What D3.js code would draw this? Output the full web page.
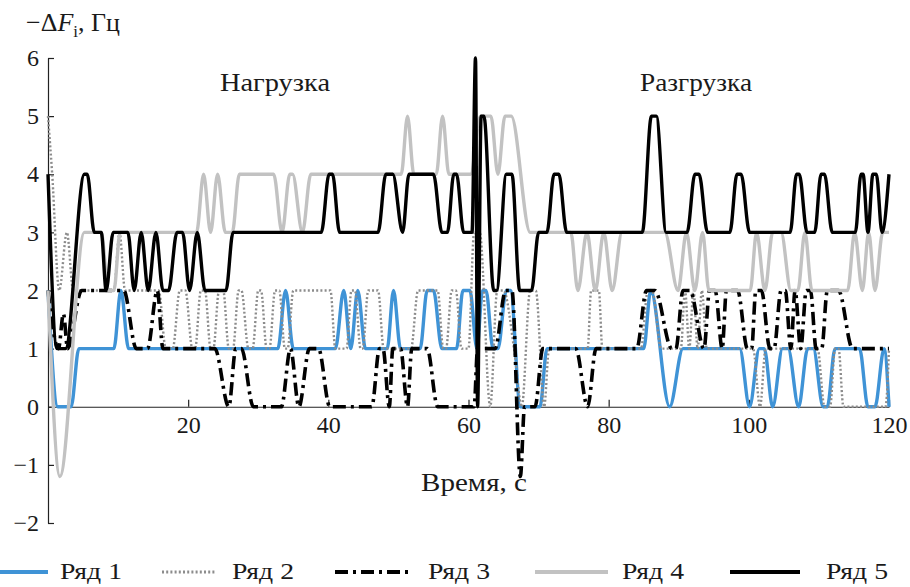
<!DOCTYPE html>
<html><head><meta charset="utf-8">
<script src="https://cdn.jsdelivr.net/npm/d3@7"></script>
<style>body{margin:0;background:#fff} svg{display:block}</style>
</head><body>
<svg id="c" width="910" height="587"></svg>
<script>
// ---- data ----
const xTicks = [20, 40, 60, 80, 100, 120];
const yTicks = [-2, -1, 0, 1, 2, 3, 4, 5, 6];
const seriesNames = ["Ряд 1", "Ряд 2", "Ряд 3", "Ряд 4", "Ряд 5"];
const regionLabels = ["Нагрузка", "Разгрузка"];
const xLabel = "Время, с";

const series1 = [[0,2],[1.4,0],[3.3,0],[4.4,1],[9.4,1],[10.4,2],[11.5,1],[32.8,1],[33.9,2],[35.0,1],[41.0,1],[42.2,2],[43.2,1],[44.2,2],[45.3,1],[48.4,1],[49.3,2],[50.3,1],[53.1,1],[54.1,2],[55.0,2],[56.2,1],[58.3,1],[59.2,2],[60.2,2],[61.2,1],[62.0,2],[62.5,2],[63.5,1],[64.2,1],[65.4,2],[66.0,2],[67.4,0],[70.2,0],[71.2,1],[85.0,1],[86.0,2],[88.7,0],[90.6,1],[98.7,1],[100.1,0],[101.5,1],[102.2,1],[103.4,0],[104.8,1],[105.6,1],[107.1,0],[108.4,1],[109.2,1],[110.6,0],[111.2,0],[112.3,1],[115.8,1],[117.0,0],[118.0,0],[119.3,1],[120,0]];

const series2 = [[0,5],[0.6,4],[1.6,2],[2.7,3],[3.6,2],[9.4,2],[10.2,3],[11.0,2],[15.8,2],[16.8,1],[17.8,1],[18.8,2],[19.6,2],[20.6,1],[21.0,1],[21.8,2],[22.4,2],[23.2,1],[23.6,1],[24.4,2],[25.0,2],[25.8,1],[26.4,1],[27.2,2],[27.6,2],[28.6,1],[29.2,1],[30.0,2],[30.4,2],[31.2,1],[31.6,1],[32.4,2],[33.0,2],[33.8,1],[34.2,1],[35.0,2],[40.3,2],[41.0,1],[42.6,1],[43.3,2],[43.8,2],[44.6,1],[44.9,1],[45.7,2],[47.1,2],[47.9,1],[51.8,1],[52.8,2],[55.6,2],[56.4,1],[56.8,1],[57.6,2],[58.2,2],[59.0,1],[60.0,1],[60.8,3],[61.6,3],[63.1,0],[64.1,2],[65.0,2],[66.5,1],[67.6,0],[68.8,2],[69.6,2],[70.8,0],[71.5,1],[77.0,1],[77.5,2],[78.6,2],[79.1,1],[84.6,1],[85.6,2],[86.2,2],[87.5,1],[90.3,1],[90.9,2],[91.5,1],[92.1,2],[92.7,1],[93.3,2],[94.0,1],[100.6,1],[101.6,0],[102.4,1],[109.8,1],[110.8,0],[111.6,0],[112.3,1],[112.8,1],[113.5,0],[119.5,0],[120,1]];

const series3 = [[0,2],[1.5,1],[2.2,1.6],[2.8,1],[4.8,2],[10.8,2],[12.6,1],[14.2,1],[15.6,2],[16.4,1],[23.8,1],[25.8,0],[26.8,1],[27.6,1],[29.3,0],[33.3,0],[34.6,1],[35.8,0],[37.3,1],[38.6,1],[40.2,0],[46.2,0],[47.3,1],[47.8,1],[48.7,0],[49.2,1],[50.3,1],[51.3,0],[51.9,1],[54.1,1],[55.6,0],[60.8,0],[61.3,1],[63.8,1],[65.3,2],[66.2,2],[67.4,-1.2],[68.0,0],[69.5,0],[70.6,1],[75.3,1],[77.0,0],[78.2,1],[84.0,1],[85.4,2],[86.6,2],[89.0,1],[89.6,1],[90.6,2],[91.6,2],[93.6,1],[94.4,2],[95.2,2],[96.2,1],[96.8,2],[98.4,2],[99.8,1],[100.4,1],[101.0,2],[101.8,2],[103.0,1],[103.6,1],[104.6,2],[105.2,2],[106.0,1],[106.6,2],[107.4,1],[108.2,2],[108.8,2],[109.6,1],[110.4,1],[111.2,2],[112.8,2],[114.8,1],[120,1]];

const series4 = [[0,2],[1.7,-1.2],[5.2,3],[7.6,3],[8.6,2],[9.4,2],[10.3,3],[21.2,3],[22.2,4],[23.2,3],[24.2,4],[25.3,3],[26.3,3],[27.3,4],[32.2,4],[33.4,3],[34.5,4],[34.9,4],[36.3,3],[37.5,4],[50.4,4],[51.3,5],[52.2,4],[55.4,4],[56.3,5],[57.2,4],[60.3,4],[61.7,5],[63.2,5],[64.2,4],[65.2,5],[66.1,5],[68.8,3],[74.6,3],[75.6,2],[76.9,3],[78.1,2],[79.3,3],[80.5,2],[81.9,3],[88.0,3],[89.9,2],[91.1,3],[92.3,2],[93.4,3],[94.3,2],[100.2,2],[101.1,3],[102.3,2],[103.4,3],[104.6,3],[106.0,2],[107.0,2],[108.0,3],[109.0,2],[114.1,2],[115.1,3],[116.2,2],[117.1,3],[118.0,2],[119.1,3],[120,3]];

const series5 = [[0,4],[1.3,1],[2.5,1],[5.2,4],[5.6,4],[6.6,3],[7.6,3],[8.3,2],[9.3,3],[11.4,3],[12.3,2],[13.3,3],[14.3,2],[15.4,3],[16.4,2],[17.2,2],[18.4,3],[19.2,3],[20.2,2],[21.3,3],[22.4,2],[25.4,2],[26.4,3],[39.0,3],[40.1,4],[40.6,4],[41.6,3],[47.1,3],[48.2,4],[49.2,4],[50.6,3],[51.5,4],[55.0,4],[56.2,3],[57.0,3],[57.9,4],[58.3,4],[59.3,3],[60.5,3],[61.0,6],[61.3,0],[61.8,5],[62.2,5],[63.6,2],[64.0,2],[65.4,4],[66.2,4],[67.3,2],[69.0,2],[70.0,3],[71.2,3],[72.2,4],[72.9,4],[74.0,3],[84.8,3],[86.1,5],[86.8,5],[88.2,3],[91.2,3],[92.3,4],[92.9,4],[94.1,3],[97.3,3],[98.3,4],[98.9,4],[100.1,3],[105.9,3],[106.8,4],[107.2,4],[108.3,3],[109.4,3],[110.3,4],[110.8,4],[111.9,3],[115.2,3],[116.0,4],[116.3,4],[117.0,3],[117.7,4],[118.2,4],[119.0,3],[120,4]];

// ---- styles ----
const FONT = "Liberation Serif";
const FS = 24;
const LFS = 26;
const styles = [
  {color:"#3f93d6", width:3.4, dash:null},
  {color:"#8c8c8c", width:2.4, dash:"2,2.2"},
  {color:"#000000", width:3.6, dash:"13,5,3,5"},
  {color:"#c2c2c2", width:3.4, dash:null},
  {color:"#000000", width:3.4, dash:null}
];
const allSeries = [series1, series2, series3, series4, series5];

const svg = d3.select("#c");
const x = d3.scaleLinear().domain([0,120]).range([48,889]);
const y = d3.scaleLinear().domain([-2,6]).range([523,58]);

// axes
const yAxis = d3.axisLeft(y).tickValues(yTicks).tickSizeInner(-6).tickSizeOuter(0).tickPadding(9)
  .tickFormat(d3.format("d"));
const gy = svg.append("g").attr("transform",`translate(${x(0)},0)`).call(yAxis);
const xAxis = d3.axisBottom(x).tickValues(xTicks).tickSizeInner(-7).tickSizeOuter(0).tickPadding(9);
const gx = svg.append("g").attr("transform",`translate(0,${y(0)})`).call(xAxis);
[gx, gy].forEach(g => {
  g.attr("font-family", FONT).attr("font-size", FS);
  g.selectAll("path.domain").attr("stroke","#222").attr("stroke-width",1.2);
  g.selectAll(".tick line").attr("stroke","#222").attr("stroke-width",1.2);
  g.selectAll(".tick text").attr("fill","#1a1a1a").attr("font-family", FONT).attr("font-size", FS);
});

// lines
const line = d3.line().x(d=>x(d[0])).y(d=>y(d[1])).curve(d3.curveMonotoneX);
allSeries.forEach((s,i)=>{
  const st = styles[i];
  svg.append("path").datum(s).attr("d",line)
    .attr("fill","none").attr("stroke",st.color).attr("stroke-width",st.width)
    .attr("stroke-linejoin","round")
    .attr("stroke-dasharray",st.dash);
});

// texts
function txt(xp, yp, s, anchor, len, fs){
  const e = svg.append("text").attr("x",xp).attr("y",yp).attr("text-anchor",anchor||"start")
    .attr("font-size",fs||LFS).attr("font-family",FONT).attr("fill","#1a1a1a").text(s);
  if (len) e.attr("textLength",len).attr("lengthAdjust","spacingAndGlyphs");
  return e;
}
const t = svg.append("text").attr("x",26).attr("y",31).attr("font-size",LFS).attr("font-family",FONT).attr("fill","#1a1a1a");
t.append("tspan").text("−Δ");
t.append("tspan").attr("font-style","italic").text("F");
t.append("tspan").attr("font-size",17).attr("dy",6).text("i");
t.append("tspan").attr("dy",-6).text(", Гц");

txt(275, 91, regionLabels[0], "middle", 110);
txt(696, 91, regionLabels[1], "middle", 112);
txt(474, 491, xLabel, "middle", 106);

// legend
const legX = [0, 162, 335, 535, 730];
const legW = [48, 53, 75, 73, 70];
const legTX = [60, 232, 428, 622, 826];
seriesNames.forEach((n,i)=>{
  const st = styles[i];
  svg.append("line").attr("x1",legX[i]).attr("x2",legX[i]+legW[i]).attr("y1",572).attr("y2",572)
    .attr("stroke",st.color).attr("stroke-width",i===1?3:4.2).attr("stroke-dasharray",st.dash);
  txt(legTX[i], 579, n, "start", 62, 24);
});
</script>
</body></html>
